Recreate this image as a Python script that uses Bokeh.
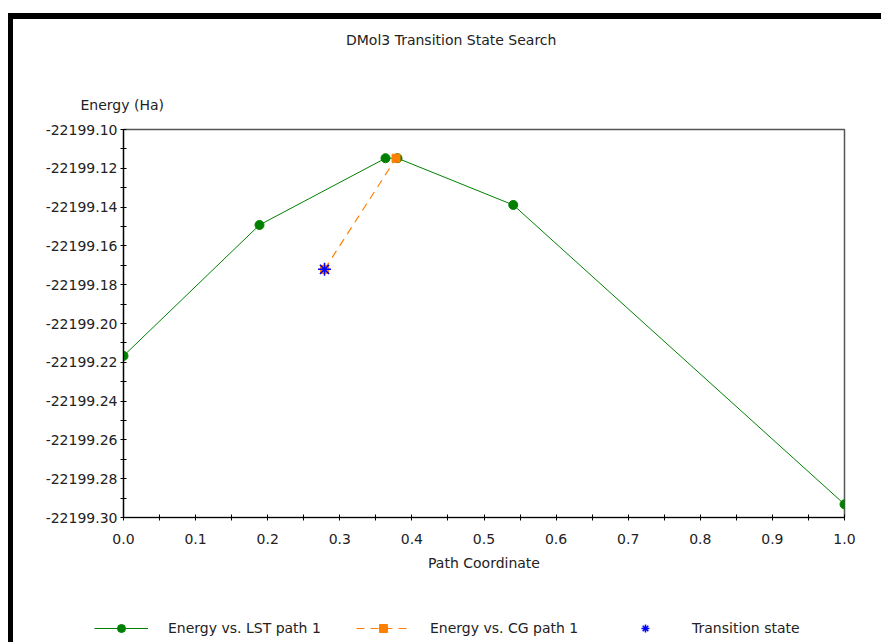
from bokeh.plotting import figure
from bokeh.models import (FixedTicker, PrintfTickFormatter, Title, Legend, LegendItem,
                          Div, Spacer, Range1d)
from bokeh.layouts import column, row
from bokeh.embed import file_html
from bokeh.resources import INLINE

# ---- data ----
lst_x = [0.0, 0.1886, 0.3634, 0.3800, 0.5406, 1.0]
lst_y = [-22199.2167, -22199.1492, -22199.1148, -22199.1148, -22199.1389, -22199.2932]
cg_x = [0.2788, 0.3780]
cg_y = [-22199.1721, -22199.1148]
ts_x = [0.2788]
ts_y = [-22199.1721]

x_major = [0.0, 0.1, 0.2, 0.3, 0.4, 0.5, 0.6, 0.7, 0.8, 0.9, 1.0]
x_minor = [0.05, 0.15, 0.25, 0.35, 0.45, 0.55, 0.65, 0.75, 0.85, 0.95]
y_major = [-22199.30, -22199.28, -22199.26, -22199.24, -22199.22, -22199.20,
           -22199.18, -22199.16, -22199.14, -22199.12, -22199.10]
y_minor = [-22199.29, -22199.27, -22199.25, -22199.23, -22199.21,
           -22199.19, -22199.17, -22199.15, -22199.13, -22199.11]

title_text = "DMol3 Transition State Search"
x_label = "Path Coordinate"
y_label = "Energy (Ha)"
series_names = ["Energy vs. LST path 1", "Energy vs. CG path 1", "Transition state"]

FONT = "DejaVu Sans"
FS = "14px"
TXT = "#222222"
GREEN = "#008000"
ORANGE = "#ff8000"
BLUE = "#0000ff"

LEG_H = 40
TITLE_H = 50

# ---- title strip ----
title_div = Div(
    text=('<div style="position:relative; left:333px; top:14px; white-space:nowrap; '
          "font-family:'DejaVu Sans'; font-size:14px; line-height:14px; color:#222222;\">"
          + title_text + "</div>"),
    width=868, height=TITLE_H, margin=(0, 0, 0, 0))

p = figure(width=868, height=623 - LEG_H - TITLE_H,
           x_range=Range1d(0.0, 1.0), y_range=Range1d(-22199.30, -22199.10),
           output_backend="svg", toolbar_location=None,
           min_border_left=110, min_border_right=37,
           min_border_top=110 - TITLE_H, min_border_bottom=125 - LEG_H)
p.title_location = None
p.frame_align = False
p.grid.visible = False
p.outline_line_color = "#555555"
p.outline_line_width = 1.5
p.background_fill_color = "white"
p.border_fill_color = "white"

for ax in (p.xaxis[0], p.yaxis[0]):
    ax.axis_line_color = "black"
    ax.axis_line_width = 1.2
    ax.major_tick_in = 3
    ax.major_tick_out = 3
    ax.minor_tick_in = 3
    ax.minor_tick_out = 3
    ax.major_tick_line_color = "black"
    ax.minor_tick_line_color = "black"
    ax.major_label_text_font = FONT
    ax.major_label_text_font_size = FS
    ax.major_label_text_color = TXT

p.xaxis.ticker = FixedTicker(ticks=x_major, minor_ticks=x_minor)
p.yaxis.ticker = FixedTicker(ticks=y_major, minor_ticks=y_minor)
p.xaxis.formatter = PrintfTickFormatter(format="%.1f")
p.yaxis.formatter = PrintfTickFormatter(format="%.2f")
p.xaxis.major_label_standoff = 13
p.yaxis.major_label_standoff = 3
p.xaxis.axis_label = x_label
p.xaxis.axis_label_text_font = FONT
p.xaxis.axis_label_text_font_size = FS
p.xaxis.axis_label_text_font_style = "normal"
p.xaxis.axis_label_text_color = TXT
p.xaxis.axis_label_standoff = 8

p.line(lst_x, lst_y, line_color=GREEN, line_width=1)
p.scatter(lst_x, lst_y, marker="circle", size=9, fill_color=GREEN, line_color=GREEN)
p.line(cg_x, cg_y, line_color=ORANGE, line_width=1.2, line_dash="8 6")
p.scatter(cg_x, cg_y, marker="square", size=8, fill_color=ORANGE, line_color=ORANGE)
p.scatter(ts_x, ts_y, marker="asterisk", size=13, line_color=BLUE, line_width=1.5)

# caption of the energy axis, above the axis top
p.add_layout(Title(text=y_label, align="left", offset=-43, standoff=34,
                   text_font=FONT, text_font_size=FS, text_font_style="normal",
                   text_color=TXT), "above")

# ---- legend strip below the chart (same series, drawn out of its view) ----
lf = figure(width=868, height=LEG_H, x_range=Range1d(0, 1), y_range=Range1d(0, 1),
            output_backend="svg", toolbar_location=None,
            x_axis_location=None, y_axis_location=None, min_border=0)
lf.title_location = None
lf.frame_align = False
lf.grid.visible = False
lf.outline_line_color = None
lf.background_fill_color = "white"
lf.border_fill_color = "white"
g1 = lf.line(lst_x, lst_y, line_color=GREEN, line_width=1)
g1m = lf.scatter(lst_x, lst_y, marker="circle", size=9, fill_color=GREEN, line_color=GREEN)
g2 = lf.line(cg_x, cg_y, line_color=ORANGE, line_width=1.2, line_dash="8 6")
g2m = lf.scatter(cg_x, cg_y, marker="square", size=8, fill_color=ORANGE, line_color=ORANGE)
g3 = lf.scatter(ts_x, ts_y, marker="asterisk", size=11, line_color=BLUE, line_width=1.5)

legend = Legend(items=[LegendItem(label=series_names[0], renderers=[g1, g1m]),
                       LegendItem(label=series_names[1], renderers=[g2, g2m]),
                       LegendItem(label=series_names[2], renderers=[g3])],
                orientation="horizontal", location=(81, 4),
                padding=0, margin=0, border_line_color=None, background_fill_alpha=0,
                glyph_width=54, glyph_height=20, label_height=20, label_standoff=20,
                label_width=180, spacing=8,
                label_text_font=FONT, label_text_font_size=FS, label_text_color=TXT)
lf.add_layout(legend)

top_bar = Div(text="", width=873, height=6, margin=(0, 0, 0, 0),
              styles={"background-color": "black"})
left_bar = Div(text="", width=5, height=623, margin=(0, 0, 0, 0),
               styles={"background-color": "black"})

layout = column(Spacer(width=881, height=13, margin=(0, 0, 0, 0)),
                row(Spacer(width=8, height=629, margin=(0, 0, 0, 0)),
                    column(top_bar,
                           row(left_bar, column(title_div, p, lf, spacing=0), spacing=0),
                           spacing=0),
                    spacing=0),
                spacing=0)

open("out.html", "w").write(file_html(layout, INLINE))
